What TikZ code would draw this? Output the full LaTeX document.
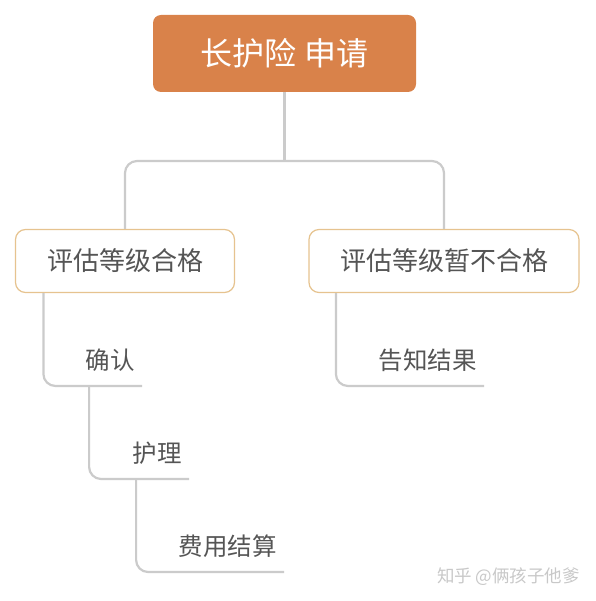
\documentclass[tikz,border=0pt]{standalone}
\usepackage{fontspec}
\setmainfont{Noto Sans CJK SC}
\definecolor{rootorange}{HTML}{D9824A}
\definecolor{boxedge}{HTML}{E6C38F}
\definecolor{linegray}{HTML}{CBCBCB}
\definecolor{textgray}{HTML}{555555}
\definecolor{markgray}{HTML}{C8C8C8}
\tikzset{
	rootbox/.style={rectangle, rounded corners=8pt, fill=rootorange, text=white,
		minimum width=263pt, minimum height=77pt, font=\fontsize{32}{36}\selectfont},
	gradebox/.style={rectangle, rounded corners=10pt, draw=boxedge, line width=1.2pt, fill=white,
		text=textgray, minimum height=63pt, font=\fontsize{26}{30}\selectfont},
	leaf/.style={anchor=south east, text=textgray, inner xsep=7pt, inner ysep=0pt,
		text depth=16pt, font=\fontsize{24.5}{28}\selectfont},
	conn/.style={draw=linegray, line width=2.2pt, rounded corners=12pt}
}
\begin{document}
\begin{tikzpicture}[x=1pt, y=-1pt]
	\useasboundingbox (0,0) rectangle (595,601);
	\node [rootbox] (apply) at (284.5,53.5) {长护险 申请};
	\node [gradebox, minimum width=219pt] (pass) at (125,261) {评估等级合格};
	\node [gradebox, minimum width=270pt] (fail) at (444,261) {评估等级暂不合格};
	\coordinate (fork) at (284.5,161);
	% first level
	\draw [conn, rounded corners=0pt] (apply.south) -- (fork);
	\draw [conn] (pass.north) |- (fork) -| (fail.north);
	% steps under each grade
	\node [leaf] (confirm) at (142,386) {确认};
	\node [leaf] (care) at (189,479) {护理};
	\node [leaf] (fee) at (284,572) {费用结算};
	\node [leaf] (notify) at (484,386) {告知结果};
	\draw [conn] ([xshift=28.5pt]pass.south west) |- (confirm.south east);
	\draw [conn] ([xshift=10.5pt]confirm.south west) |- (care.south east);
	\draw [conn] ([xshift=10.5pt]care.south west) |- (fee.south east);
	\draw [conn] ([xshift=27.5pt]fail.south west) |- (notify.south east);
	\node [text=markgray, font=\fontsize{17.5}{20}\selectfont] (mark) at (508.5,577) {知乎 @俩孩子他爹};
\end{tikzpicture}
\end{document}
